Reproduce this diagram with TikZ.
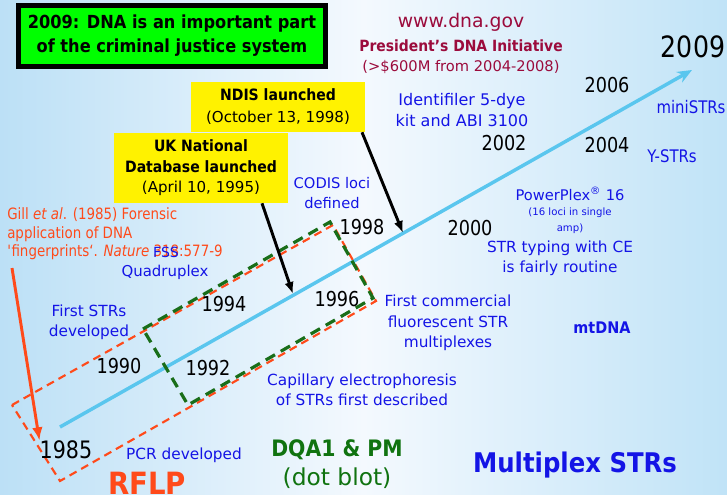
\documentclass[tikz,border=0pt]{standalone}
\usepackage{fontspec}
\setmainfont{DejaVu Sans}[BoldFeatures={FakeStretch=0.9}]
\newfontfamily\yearfont{DejaVu Sans}[FakeStretch=0.86]
\usetikzlibrary{arrows.meta}
\definecolor{txtblue}{RGB}{20,20,230}
\definecolor{maroontxt}{RGB}{155,11,60}
\definecolor{tlblue}{RGB}{90,198,238}
\definecolor{redor}{RGB}{255,74,26}
\definecolor{dgreen}{RGB}{25,110,25}
\definecolor{txtgreen}{RGB}{16,115,16}
\definecolor{bgl}{RGB}{188,224,246}
\definecolor{bgr}{RGB}{192,227,247}
\definecolor{bgm}{RGB}{244,249,254}
\newcommand\myfs[2]{\fontsize{#1}{#2}\selectfont}
\begin{document}
\begin{tikzpicture}[x=0.75pt,y=-0.75pt,
  yr/.style={font=\yearfont\myfs{15.4}{18}, text=black, inner sep=0},
  bluetxt/.style={text=txtblue, align=center, inner sep=0, font=\myfs{11.5}{15.3}},
  boldblue/.style={text=txtblue, inner sep=0, font=\bfseries\myfs{11}{14}},
  semiblue/.style={text=txtblue, inner sep=0, font=\yearfont\myfs{13}{15}},
  maroontext/.style={text=maroontxt, align=center, inner sep=0},
  yellowbox/.style={fill=yellow, draw=none, align=center, inner sep=0, minimum width=130.5pt},
  blackarrow/.style={draw=black, line width=2.2pt, -{Latex[length=9pt,width=7pt]}},
  reddash/.style={draw=redor, line width=1.6pt, dash pattern=on 6pt off 4pt},
  greendash/.style={draw=dgreen, line width=2.4pt, dash pattern=on 8pt off 5pt},
]
% background
\shade[left color=bgl, right color=bgr, middle color=bgm] (0,0) rectangle (727,494);
\useasboundingbox (0,0) rectangle (727,494);

% timeline
\coordinate (tl0) at (60,427);
\coordinate (tl1) at (692,70);
\draw[tlblue, line width=2.6pt, -{Stealth[length=11pt,width=9pt]}] (tl0) -- (tl1);

% dashed frames
\coordinate (ra) at (12,405);
\coordinate (rb) at (333,225);
\coordinate (rc) at (376,301);
\coordinate (rd) at (60,481);
\draw[reddash] (ra) -- (rb) -- (rc) -- (rd) -- cycle;
\coordinate (ga) at (143,329);
\coordinate (gb) at (330,222);
\coordinate (gc) at (373,298);
\coordinate (gd) at (188,405);
\draw[greendash] (ga) -- (gb) -- (gc) -- (gd) -- cycle;

% title box
\node[draw=black, line width=3.6pt, fill=green, minimum width=230pt, minimum height=46pt,
      align=center, inner sep=0, font=\bfseries\myfs{13.5}{18}] (title) at (172,36)
  {2009: DNA is an important part\\of the criminal justice system};

% maroon texts
\node[maroontext, font=\myfs{14.1}{16}] (www) at (461,22) {www.dna.gov};
\node[maroontext, font=\bfseries\myfs{11.6}{14}] (pres) at (461,46) {President’s DNA Initiative};
\node[maroontext, font=\myfs{11}{14}] (money) at (461,67) {(>\$600M from 2004-2008)};

% yellow boxes
\node[yellowbox, minimum height=37.5pt, font=\myfs{11.3}{16.5}] (ndis) at (278,107)
  {\textbf{\myfs{11.7}{16.5}NDIS launched}\\(October 13, 1998)};
\node[yellowbox, minimum height=52.5pt, font=\myfs{11.3}{15.4}] (uk) at (201,168)
  {\textbf{\myfs{11.7}{15.4}UK National}\\\textbf{\myfs{11.7}{15.4}Database launched}\\(April 10, 1995)};

% years
\node[yr, font=\yearfont\myfs{22}{24}] (y2009) at (693,47) {2009};
\node[yr] (y2006) at (607,85) {2006};
\node[yr] (y2004) at (607,145) {2004};
\node[yr] (y2002) at (504,143) {2002};
\node[yr] (y2000) at (470,228) {2000};
\node[yr] (y1998) at (362,227) {1998};
\node[yr] (y1996) at (337,299) {1996};
\node[yr] (y1994) at (224,304) {1994};
\node[yr] (y1992) at (208,368) {1992};
\node[yr] (y1990) at (119,366) {1990};
\node[yr, font=\yearfont\myfs{18}{20}] (y1985) at (66,450) {1985};

% blue texts
\node[semiblue] (mini) at (691,107) {miniSTRs};
\node[semiblue] (ystr) at (672,156) {Y-STRs};
\node[bluetxt, font=\myfs{12}{15.8}] (ident) at (462,110) {Identifiler 5-dye\\kit and ABI 3100};
\node[bluetxt, font=\myfs{11}{14}] (pp) at (570,194) {PowerPlex\textsuperscript{®} 16};
\node[bluetxt, font=\myfs{7.6}{12}] (loci) at (570,221) {(16 loci in single\\amp)};
\node[bluetxt] (routine) at (560,258) {STR typing with CE\\is fairly routine};
\node[bluetxt] (comm) at (448,323) {First commercial\\fluorescent STR\\multiplexes};
\node[boldblue, font=\bfseries\myfs{12}{14}] (mt) at (602,328) {mtDNA};
\node[bluetxt] (ce) at (362,390) {Capillary electrophoresis\\of STRs first described};
\node[bluetxt, font=\myfs{11}{15.2}] (codis) at (332,193) {CODIS loci\\defined};
\node[bluetxt] (firststr) at (89,322) {First STRs\\developed};
\node[bluetxt, font=\myfs{11.2}{14}] (quad) at (165,272) {Quadruplex};
\node[bluetxt] (pcr) at (184,455) {PCR developed};

% bottom labels
\node[inner sep=0, text=redor, font=\bfseries\myfs{23}{26}] (rflp) at (147,483) {RFLP};
\node[inner sep=0, text=txtgreen, font=\bfseries\myfs{17}{20}] (dqa) at (337,450) {DQA1 \& PM};
\node[inner sep=0, text=txtgreen, font=\myfs{17.5}{20}] (dot) at (337,478) {(dot blot)};
\node[inner sep=0, text=txtblue, font=\bfseries\myfs{20.3}{24}] (mplex) at (575,465) {Multiplex STRs};

% Gill reference
\node[inner sep=0, anchor=west, align=left, text=redor, font=\yearfont\myfs{11.7}{13.9}] (gill) at (7,234)
  {Gill \textit{et al}. (1985) Forensic\\application of DNA\\\textquotesingle fingerprints‘. \textit{Nature} 318:577-9};
\node[inner sep=0, text=txtblue, font=\myfs{10.5}{12}] (fss) at (166,252) {FSS};

% arrows
\draw[blackarrow] ([xshift=63pt]ndis.south) -- (403,233);
\draw[blackarrow] ([xshift=45.75pt]uk.south) -- (293,294);
\coordinate (redstart) at (12,268);
\draw[redor, line width=2.2pt, -{Latex[length=10pt,width=8pt]}] (redstart) -- (y1985.north west);
\end{tikzpicture}
\end{document}
